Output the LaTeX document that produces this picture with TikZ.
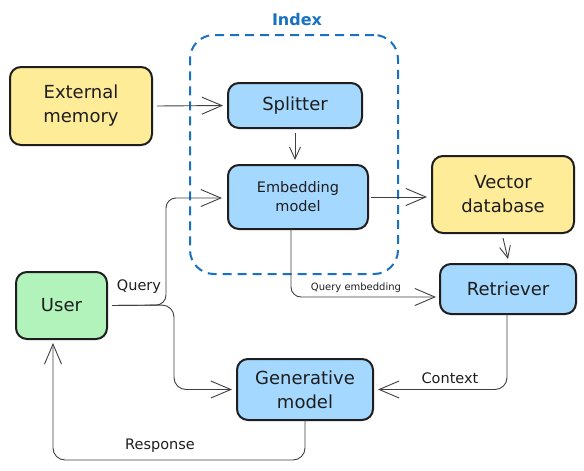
\documentclass[tikz,border=0pt]{standalone}
\usepackage{fontspec}
\setmainfont{DejaVu Sans}
\usetikzlibrary{arrows.meta}
\definecolor{ylw}{HTML}{FFEC99}
\definecolor{blu}{HTML}{A5D8FF}
\definecolor{grn}{HTML}{B2F2BB}
\definecolor{idx}{HTML}{1971C2}
\definecolor{ink}{HTML}{1E1E1E}
\tikzset{
  box/.style={draw=ink, line width=2pt, rounded corners=11pt, align=center, inner sep=0pt, font=\fontsize{18}{24}\selectfont, text=ink},
  arr/.style={draw=ink!85, line width=0.9pt, -{Straight Barb[length=20pt,width=17pt,line width=0.9pt]}},
  sarr/.style={draw=ink!85, line width=0.9pt, -{Straight Barb[length=12pt,width=11pt,line width=0.9pt]}},
  lbl/.style={text=ink, inner sep=0pt, font=\fontsize{14.5}{16}\selectfont},
}
\begin{document}
\begin{tikzpicture}[x=1pt,y=-1pt]
\useasboundingbox[fill=white] (0,0) rectangle (584,471);
% index container
\node[draw=idx, dashed, dash pattern=on 9pt off 6pt, line width=2pt, rounded corners=24pt, minimum width=208pt, minimum height=239pt, inner sep=0pt] (index) at (294,154.5) {};
\node[text=idx, font=\bfseries\fontsize{16}{18}\selectfont, inner sep=0pt] (indexlbl) at (297,20) {Index};
% nodes
\node[box, fill=ylw, minimum width=142pt, minimum height=78pt] (ext) at (81,106) {External\\memory};
\node[box, fill=blu, minimum width=134pt, minimum height=45pt] (split) at (295,105.5) {Splitter};
\node[box, fill=blu, minimum width=140pt, minimum height=64pt, font=\fontsize{14.5}{19}\selectfont] (embed) at (298,197) {Embedding\\model};
\node[box, fill=ylw, minimum width=142pt, minimum height=77pt] (vdb) at (503,194.5) {Vector\\database};
\node[box, fill=blu, minimum width=136pt, minimum height=50pt] (retr) at (508,289) {Retriever};
\node[box, fill=grn, minimum width=91pt, minimum height=67pt] (user) at (61.5,305.5) {User};
\node[box, fill=blu, minimum width=136pt, minimum height=61pt] (gen) at (305,389.5) {Generative\\model};
% coordinates
\coordinate (q1) at (166,305);
\coordinate (q2) at (166,198);
\coordinate (g1) at (174,305);
\coordinate (g2) at (174,389.5);
\coordinate (e1) at (291,229);
\coordinate (e2) at (291,297);
\coordinate (r2) at (436,297);
\coordinate (c1) at (507,314);
\coordinate (c2) at (507,389.5);
\coordinate (s1) at (305,420);
\coordinate (s2) at (305,460);
\coordinate (s3) at (53,460);
\coordinate (s4) at (53,343);
% connectors
\draw[arr] ([xshift=4pt]ext.east) -- ([xshift=-4pt]split.west);
\draw[sarr] ([yshift=-4pt]split.south) -- ([yshift=4pt]split.south |- embed.north);
\draw[arr] ([xshift=2pt]embed.east) -- ([xshift=-4pt]vdb.west |- embed.east);
\draw[sarr] ([yshift=-4pt]vdb.south) -- ([yshift=4pt]retr.north);
\draw[arr, rounded corners=10pt] (e1) -- (e2) -- (r2);
\draw[arr, rounded corners=10pt] ([xshift=4pt]user.east) -- (q1) -- (q2) -- ([xshift=-5pt]embed.west |- q2);
\draw[arr, rounded corners=12pt] ([xshift=4pt]user.east) -- (g1) -- (g2) -- ([xshift=-4pt]gen.west);
\draw[arr, rounded corners=12pt] (c1) -- (c2) -- ([xshift=4pt]gen.east);
\draw[arr, rounded corners=12pt] (s1) -- (s2) -- (s3) -- (s4);
% labels
\node[lbl, font=\fontsize{10}{12}\selectfont] (lqe) at (356,288) {Query embedding};
\node[lbl] (lq) at (139,287) {Query};
\node[lbl] (lc) at (450,378) {Context};
\node[lbl] (lr) at (160,446) {Response};
\end{tikzpicture}
\end{document}
